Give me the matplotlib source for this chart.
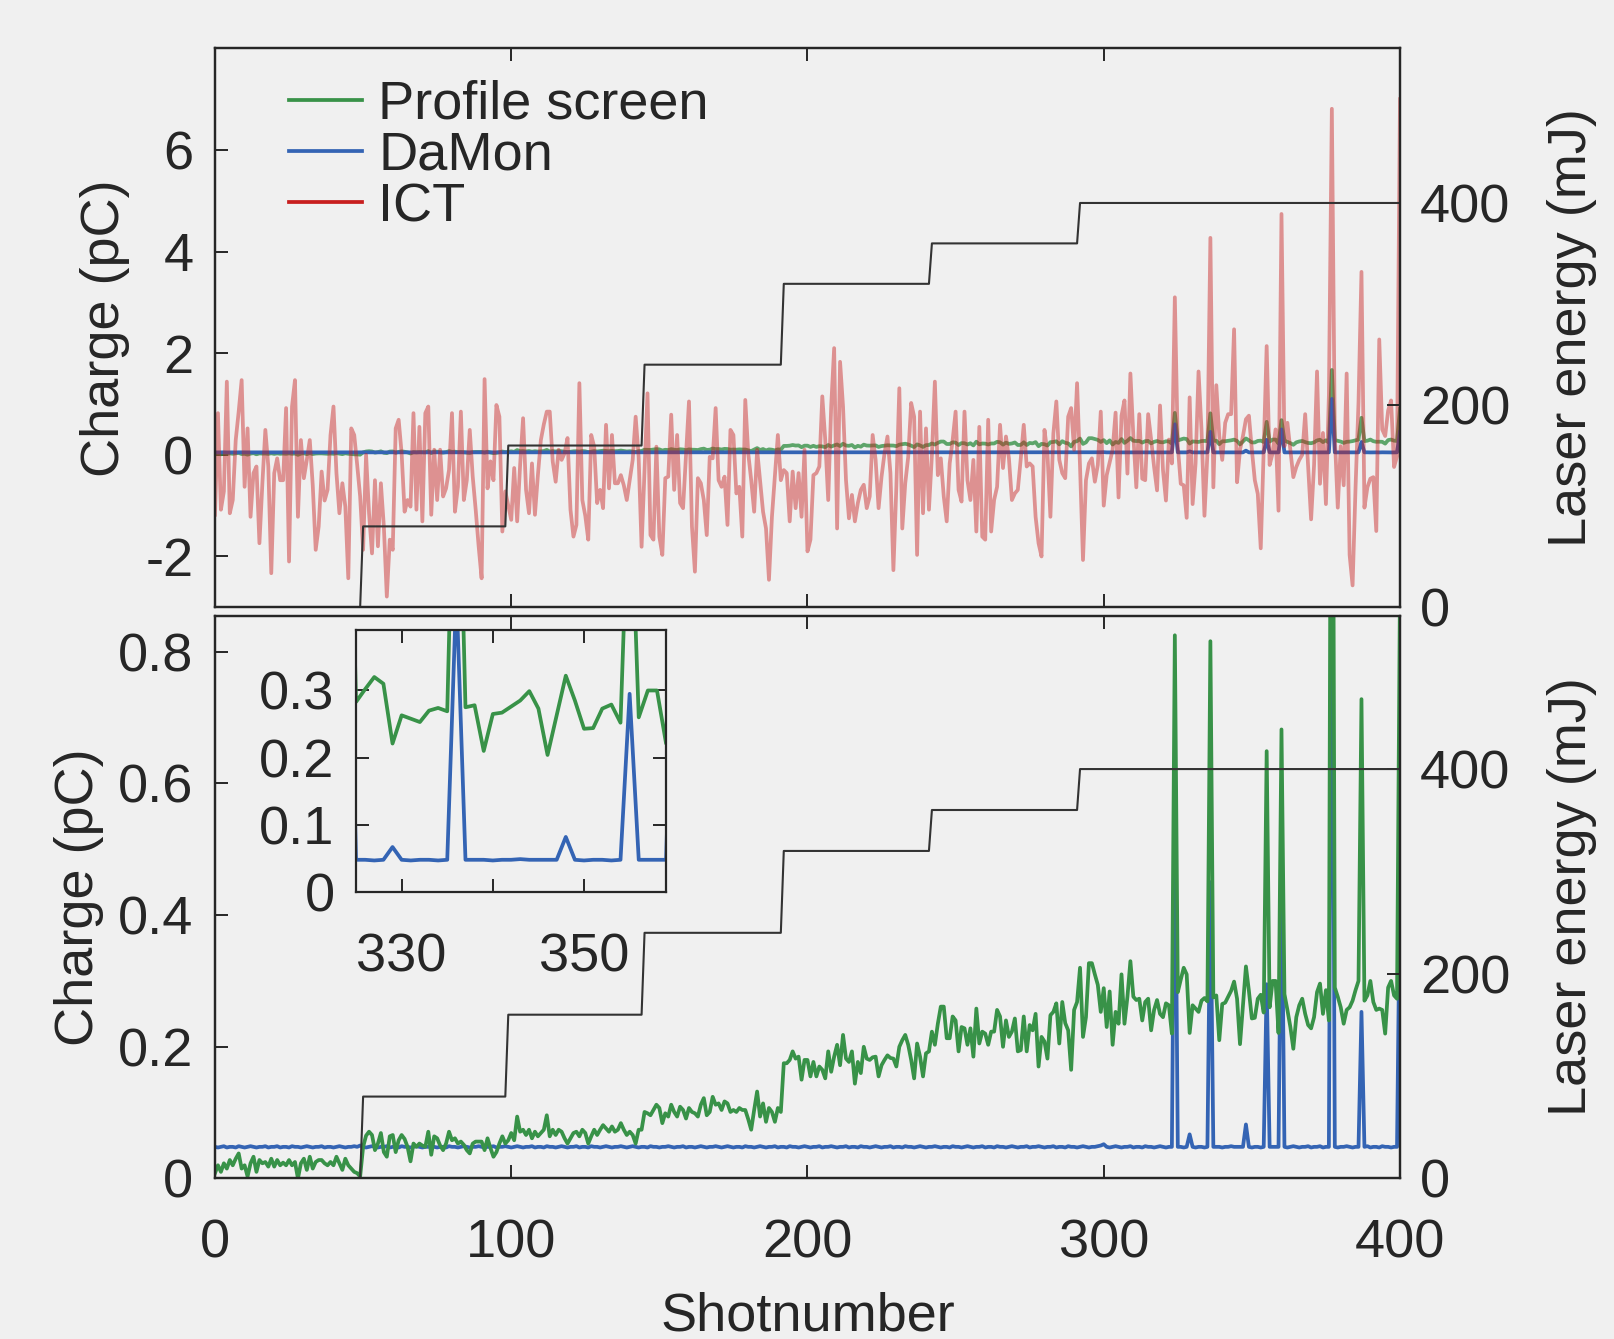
import numpy as np
import matplotlib
matplotlib.use("Agg")
import matplotlib.pyplot as plt
from matplotlib.lines import Line2D

plt.rcParams["font.family"] = ["Liberation Sans", "DejaVu Sans"]
plt.rcParams["axes.unicode_minus"] = False

# ---- data ----
SERIES_NAMES = ["Profile screen", "DaMon", "ICT"]

# ICT charge (pC), shots 0..400
ICT = [
    -1.18, 0.82, -1.08, -0.72, 1.44, -1.15, -0.89, 0.29, 0.85, 1.47,
    -0.63, 0.52, -1.22, -0.36, -0.23, -1.74, -0.56, 0.49, -0.23, -2.33,
    -0.36, -0.07, -0.5, -0.5, 0.92, -2.1, 0.95, 1.47, -1.22, 0.29,
    -0.46, -0.1, 0.29, -0.6, -1.87, -1.41, -0.33, -0.9, -0.69, 0.39,
    0.95, -0.36, -1.15, -0.56, -1.02, -2.43, 0.52, 0.39, -0.2, -0.82,
    -1.87, 0.0, -1.15, -1.94, -0.5, -1.8, -0.56, -1.41, -2.79, -1.67,
    -1.87, 0.52, 0.69, 0.03, -1.12, -0.89, -1.02, 0.82, -1.08, 0.55,
    -1.31, 0.82, 0.95, -1.18, 0.1, -0.89, 0.1, -0.82, -0.66, -0.3,
    0.82, -1.12, -0.63, 0.85, -0.89, -0.5, 0.49, -0.43, -1.08, -1.8,
    -2.43, 1.49, -0.66, -0.13, -0.5, 0.98, 0.75, -1.51, -0.72, -1.0,
    -1.28, -0.26, -1.31, -0.2, 0.72, -0.69, -1.15, -0.17, -1.18, -0.4,
    0.29, 0.6, 0.85, 0.85, -0.13, -0.53, 0.1, -0.1, 0.03, 0.33,
    -1.08, -1.61, -1.38, 1.41, -0.89, -1.2, -1.67, 0.39, 0.16, -0.95,
    -0.69, -1.05, 0.59, -0.66, 0.39, -0.56, -0.56, -0.4, -0.6, -0.89,
    -0.5, -0.1, 0.75, -0.04, -1.81, -0.3, 1.21, -1.58, -1.67, 0.16,
    -1.61, -1.97, -0.46, -0.43, 0.79, -0.69, 0.39, -0.95, -1.05, 0.0,
    1.05, -1.41, -2.3, -0.46, -0.56, -0.89, -1.58, -0.04, -0.07, 0.92,
    -0.5, -0.63, -0.43, -1.38, 0.49, 0.39, -0.76, -0.63, -1.61, 1.08,
    0.03, -0.5, -1.12, 0.1, -0.5, -1.12, -1.45, -2.46, -1.22, -0.4,
    0.39, -0.5, -0.3, -0.36, -1.31, -0.33, -1.05, -0.36, -1.22, 0.1,
    -1.9, -1.67, -0.4, -0.36, -0.23, 1.15, 0.29, -0.89, 0.95, 2.1,
    -1.45, 1.83, 0.95, -0.5, -1.25, -0.79, -1.31, -0.95, -0.69, -0.59,
    -1.05, -0.82, 0.39, -0.1, -1.05, -0.43, 0.03, 0.36, -0.36, -2.27,
    -0.63, 1.31, -1.45, -0.56, -0.04, 1.02, 0.75, -1.97, 0.85, -1.15,
    0.52, -1.08, 0.0, 1.44, -0.4, -0.07, -0.82, -1.31, -0.17, 0.29,
    0.85, -0.69, -0.92, 0.85, -0.5, -0.89, -0.1, -1.51, 0.55, -1.61,
    -1.67, 0.69, -1.51, -0.89, -0.63, 0.59, -0.26, 0.36, -0.07, -0.89,
    -0.76, -0.69, -0.07, 0.59, -0.23, -0.17, -0.23, -1.22, -1.74, -2.0,
    0.49, 0.03, -1.22, 0.42, 1.05, -0.1, -0.36, -0.46, 0.75, 0.92,
    0.1, 1.41, -0.23, -2.07, -0.5, -0.17, -0.07, -0.53, -0.2, 0.85,
    -1.0, -0.4, -0.15, 0.1, 0.83, -0.84, 0.77, 1.07, -0.37, 1.6,
    0.37, -0.64, 0.8, -0.47, -0.5, 0.8, 0.3, -0.24, -0.7, 0.97,
    -0.3, -0.9, 0.3, -0.17, 3.1, 0.17, -0.57, -0.6, -1.24, 1.13,
    -0.97, -0.17, 1.64, 0.5, -1.2, 0.03, 4.27, -0.64, 1.37, 0.37,
    -0.1, 0.63, 0.8, 0.8, 2.47, -0.54, 0.1, 0.37, 0.7, 0.77,
    0.1, -0.5, -0.77, -1.84, 0.1, 2.14, -0.2, 0.03, 0.5, -1.1,
    4.74, 0.17, 0.63, 0.1, -0.44, -0.24, -0.1, 0.0, 0.8, -0.24,
    -1.27, -0.2, 1.64, -0.57, 0.43, -0.97, 1.17, 6.81, 0.37, -1.04,
    0.17, -0.6, 1.6, -1.97, -2.57, -0.64, 1.03, 3.6, -1.04, -0.64,
    -0.47, -0.44, -1.5, 2.27, 0.5, 0.37, 0.87, 1.07, -0.24, -0.03,
    7.0,
]

# Profile screen charge (pC), shots 0..400
PROFILE = [
    0.008, 0.02, 0.01, 0.023, 0.015, 0.028, 0.02, 0.03, 0.038, 0.015,
    0.02, 0.003, 0.023, 0.033, 0.01, 0.028, 0.023, 0.025, 0.018, 0.03,
    0.018, 0.028, 0.02, 0.024, 0.02, 0.028, 0.02, 0.025, 0.0, 0.023,
    0.03, 0.013, 0.033, 0.015, 0.025, 0.028, 0.028, 0.023, 0.02, 0.025,
    0.02, 0.033, 0.023, 0.013, 0.03, 0.02, 0.015, 0.01, 0.008, 0.003,
    0.048, 0.065, 0.071, 0.066, 0.043, 0.053, 0.069, 0.04, 0.033, 0.064,
    0.066, 0.04, 0.058, 0.066, 0.06, 0.048, 0.026, 0.053, 0.048, 0.053,
    0.05, 0.048, 0.071, 0.036, 0.064, 0.061, 0.05, 0.043, 0.053, 0.071,
    0.058, 0.061, 0.053, 0.056, 0.051, 0.043, 0.038, 0.053, 0.056, 0.056,
    0.056, 0.043, 0.061, 0.046, 0.033, 0.04, 0.053, 0.064, 0.053, 0.058,
    0.069, 0.058, 0.094, 0.071, 0.074, 0.066, 0.074, 0.061, 0.071, 0.064,
    0.069, 0.074, 0.096, 0.064, 0.074, 0.066, 0.074, 0.071, 0.061, 0.053,
    0.061, 0.069, 0.071, 0.064, 0.074, 0.069, 0.053, 0.064, 0.074, 0.066,
    0.074, 0.081, 0.076, 0.071, 0.079, 0.071, 0.074, 0.084, 0.074, 0.066,
    0.071, 0.066, 0.053, 0.074, 0.074, 0.101, 0.099, 0.096, 0.104, 0.112,
    0.107, 0.084, 0.099, 0.094, 0.112, 0.101, 0.094, 0.109, 0.104, 0.091,
    0.107, 0.101, 0.099, 0.094, 0.112, 0.122, 0.096, 0.101, 0.124, 0.112,
    0.114, 0.104, 0.117, 0.114, 0.101, 0.104, 0.101, 0.107, 0.104, 0.104,
    0.09, 0.074, 0.104, 0.132, 0.094, 0.114, 0.086, 0.107, 0.101, 0.086,
    0.107, 0.101, 0.175, 0.175, 0.18, 0.193, 0.182, 0.185, 0.15, 0.18,
    0.18, 0.155, 0.177, 0.155, 0.17, 0.165, 0.152, 0.193, 0.162, 0.185,
    0.203, 0.172, 0.218, 0.182, 0.177, 0.193, 0.144, 0.177, 0.16, 0.2,
    0.182, 0.18, 0.184, 0.185, 0.155, 0.172, 0.18, 0.187, 0.183, 0.182,
    0.17, 0.2, 0.21, 0.218, 0.203, 0.18, 0.152, 0.205, 0.185, 0.155,
    0.19, 0.193, 0.223, 0.203, 0.235, 0.261, 0.261, 0.213, 0.213, 0.246,
    0.24, 0.193, 0.23, 0.228, 0.203, 0.228, 0.185, 0.258, 0.205, 0.223,
    0.22, 0.203, 0.223, 0.223, 0.256, 0.246, 0.2, 0.24, 0.215, 0.223,
    0.243, 0.193, 0.195, 0.246, 0.193, 0.233, 0.225, 0.25, 0.17, 0.215,
    0.208, 0.182, 0.248, 0.253, 0.266, 0.205, 0.268, 0.236, 0.225, 0.165,
    0.256, 0.268, 0.32, 0.215, 0.245, 0.327, 0.327, 0.31, 0.294, 0.253,
    0.289, 0.23, 0.284, 0.203, 0.253, 0.235, 0.31, 0.235, 0.276, 0.33,
    0.276, 0.271, 0.273, 0.24, 0.268, 0.273, 0.225, 0.256, 0.271, 0.25,
    0.245, 0.266, 0.263, 0.22, 0.825, 0.283, 0.302, 0.32, 0.31, 0.221,
    0.263, 0.258, 0.253, 0.27, 0.274, 0.269, 0.816, 0.275, 0.278, 0.21,
    0.265, 0.267, 0.276, 0.285, 0.299, 0.273, 0.204, 0.263, 0.322, 0.285,
    0.243, 0.244, 0.273, 0.279, 0.252, 0.649, 0.26, 0.3, 0.3, 0.221,
    0.682, 0.28, 0.256, 0.23, 0.197, 0.245, 0.263, 0.273, 0.25, 0.233,
    0.228, 0.245, 0.283, 0.296, 0.25, 0.286, 0.24, 1.67, 0.29, 0.276,
    0.26, 0.235, 0.256, 0.26, 0.27, 0.286, 0.3, 0.728, 0.27, 0.278,
    0.3, 0.268, 0.256, 0.258, 0.256, 0.22, 0.29, 0.3, 0.278, 0.273,
    0.9,
]

# DaMon charge (pC), shots 0..400
DAMON = [
    0.048, 0.047, 0.048, 0.049, 0.047, 0.048, 0.048, 0.047, 0.049, 0.048,
    0.047, 0.048, 0.049, 0.048, 0.047, 0.048, 0.048, 0.049, 0.047, 0.048,
    0.048, 0.049, 0.047, 0.048, 0.048, 0.047, 0.049, 0.048, 0.048, 0.047,
    0.048, 0.049, 0.048, 0.047, 0.048, 0.048, 0.049, 0.047, 0.048, 0.048,
    0.047, 0.048, 0.049, 0.048, 0.047, 0.048, 0.048, 0.049, 0.048, 0.05,
    0.048, 0.047, 0.048, 0.049, 0.048, 0.047, 0.048, 0.048, 0.049, 0.047,
    0.048, 0.048, 0.047, 0.049, 0.048, 0.048, 0.047, 0.048, 0.049, 0.048,
    0.047, 0.048, 0.048, 0.049, 0.048, 0.047, 0.048, 0.048, 0.047, 0.049,
    0.048, 0.048, 0.047, 0.048, 0.049, 0.048, 0.047, 0.048, 0.048, 0.049,
    0.048, 0.047, 0.048, 0.048, 0.049, 0.047, 0.048, 0.048, 0.049, 0.048,
    0.047, 0.048, 0.049, 0.048, 0.047, 0.048, 0.048, 0.049, 0.047, 0.048,
    0.048, 0.047, 0.049, 0.048, 0.048, 0.047, 0.048, 0.049, 0.048, 0.047,
    0.048, 0.048, 0.049, 0.047, 0.048, 0.048, 0.047, 0.049, 0.048, 0.048,
    0.047, 0.048, 0.049, 0.048, 0.047, 0.048, 0.048, 0.049, 0.048, 0.047,
    0.048, 0.049, 0.048, 0.047, 0.048, 0.048, 0.047, 0.049, 0.048, 0.048,
    0.047, 0.048, 0.048, 0.049, 0.048, 0.047, 0.048, 0.048, 0.049, 0.047,
    0.048, 0.048, 0.047, 0.048, 0.049, 0.048, 0.047, 0.048, 0.048, 0.049,
    0.048, 0.047, 0.048, 0.049, 0.048, 0.047, 0.048, 0.048, 0.047, 0.049,
    0.048, 0.048, 0.047, 0.048, 0.049, 0.048, 0.047, 0.048, 0.048, 0.049,
    0.047, 0.048, 0.048, 0.047, 0.049, 0.048, 0.048, 0.047, 0.048, 0.049,
    0.048, 0.047, 0.048, 0.048, 0.049, 0.047, 0.048, 0.048, 0.049, 0.048,
    0.047, 0.048, 0.048, 0.049, 0.047, 0.048, 0.048, 0.047, 0.049, 0.048,
    0.048, 0.047, 0.048, 0.049, 0.048, 0.047, 0.048, 0.048, 0.049, 0.047,
    0.048, 0.048, 0.047, 0.049, 0.048, 0.048, 0.047, 0.048, 0.049, 0.048,
    0.047, 0.048, 0.048, 0.049, 0.048, 0.047, 0.048, 0.048, 0.047, 0.049,
    0.048, 0.048, 0.047, 0.048, 0.049, 0.048, 0.047, 0.048, 0.048, 0.049,
    0.047, 0.048, 0.048, 0.047, 0.049, 0.048, 0.048, 0.047, 0.048, 0.049,
    0.048, 0.047, 0.048, 0.048, 0.049, 0.047, 0.048, 0.048, 0.049, 0.048,
    0.047, 0.048, 0.048, 0.049, 0.047, 0.048, 0.048, 0.047, 0.049, 0.048,
    0.048, 0.047, 0.048, 0.049, 0.048, 0.047, 0.048, 0.048, 0.049, 0.05,
    0.052, 0.048, 0.047, 0.048, 0.049, 0.048, 0.047, 0.048, 0.048, 0.049,
    0.047, 0.048, 0.048, 0.047, 0.049, 0.048, 0.048, 0.047, 0.048, 0.049,
    0.048, 0.047, 0.048, 0.048, 0.6, 0.048, 0.048, 0.047, 0.048, 0.067,
    0.048, 0.047, 0.048, 0.048, 0.047, 0.048, 0.45, 0.048, 0.048, 0.048,
    0.047, 0.048, 0.048, 0.049, 0.048, 0.048, 0.048, 0.048, 0.082, 0.048,
    0.047, 0.048, 0.048, 0.047, 0.048, 0.295, 0.048, 0.048, 0.048, 0.048,
    0.5, 0.048, 0.047, 0.048, 0.049, 0.048, 0.047, 0.048, 0.048, 0.049,
    0.047, 0.048, 0.048, 0.049, 0.047, 0.048, 0.048, 1.1, 0.048, 0.047,
    0.048, 0.048, 0.049, 0.048, 0.047, 0.048, 0.048, 0.253, 0.048, 0.049,
    0.047, 0.048, 0.048, 0.047, 0.049, 0.048, 0.048, 0.047, 0.048, 0.048,
    0.45,
]

# Laser energy (mJ): level and first shot of each step
LASER_LEVELS = [0, 80, 160, 240, 320, 360, 400]
LASER_STARTS = [0, 50, 99, 145, 192, 242, 292]

TOP_YTICKS = [-2, 0, 2, 4, 6]
BOT_YTICKS = [0, 0.2, 0.4, 0.6, 0.8]
BOT_YTICKLABELS = ["0", "0.2", "0.4", "0.6", "0.8"]
X_TICKS = [0, 100, 200, 300, 400]
E_TICKS = [0, 200, 400]
INSET_XTICKS = [330, 340, 350]
INSET_XTICKLABELS = ["330", "", "350"]
INSET_YTICKS = [0, 0.1, 0.2, 0.3]
INSET_YTICKLABELS = ["0", "0.1", "0.2", "0.3"]

# ---- style ----
FS = 39
BG = "#f0f0f0"
INK = "#262626"
C_GREEN = "#389248"
C_BLUE = "#3464b4"
C_RED = "#c81e1e"
C_STEP = "#333333"
LW = 2.7

shots = np.arange(len(ICT))
laser = np.repeat(LASER_LEVELS, np.diff(LASER_STARTS + [len(ICT)]))


def style(ax, xpad=29, ypad=15.5):
    for s in ax.spines.values():
        s.set_color(INK)
        s.set_linewidth(1.6)
    ax.tick_params(direction="in", length=9.5, width=1.4, colors=INK,
                   labelsize=FS, labelcolor=INK)
    ax.tick_params(axis="x", pad=xpad)
    ax.tick_params(axis="y", pad=ypad)


fig = plt.figure(figsize=(16.14, 13.39), dpi=100, facecolor=BG)

# top panel
ax1 = fig.add_axes([0.1332, 0.5465, 0.7342, 0.4174], facecolor=BG)
ax1.plot(shots, PROFILE, color=C_GREEN, lw=LW, alpha=0.8)
ax1.plot(shots, DAMON, color=C_BLUE, lw=LW)
ax1.plot(shots, ICT, color=C_RED, lw=LW, alpha=0.45)
ax1.set_xlim(0, 400)
ax1.set_ylim(-3, 8)
ax1.set_xticks(X_TICKS)
ax1.set_yticks(TOP_YTICKS)
style(ax1)
ax1.tick_params(axis="x", top=True, labelbottom=False)
ax1.set_ylabel("Charge (pC)", fontsize=FS, color=INK)
ax1.yaxis.set_label_coords(-0.072, 0.5)

handles = [Line2D([], [], color=c, lw=LW) for c in (C_GREEN, C_BLUE, C_RED)]
ax1.legend(handles, SERIES_NAMES, loc="upper left", bbox_to_anchor=(0.0624, 0.9435),
           frameon=False, fontsize=FS, borderpad=0, borderaxespad=0,
           handlelength=1.35, handletextpad=0.3, labelspacing=0.02,
           labelcolor=INK)

tw1 = ax1.twinx()
tw1.plot(shots, laser, color=C_STEP, lw=1.5)
tw1.set_ylim(0, 553)
tw1.set_yticks(E_TICKS)
style(tw1, ypad=14.4)
tw1.set_ylabel("Laser energy (mJ)", fontsize=FS, color=INK)
tw1.yaxis.set_label_coords(1.124, 0.5)

# bottom panel
ax2 = fig.add_axes([0.1332, 0.1199, 0.7342, 0.4204], facecolor=BG)
ax2.plot(shots, DAMON, color=C_BLUE, lw=LW)
ax2.plot(shots, PROFILE, color=C_GREEN, lw=LW)
ax2.set_xlim(0, 400)
ax2.set_ylim(0, 0.855)
ax2.set_xticks(X_TICKS)
ax2.set_yticks(BOT_YTICKS)
ax2.set_yticklabels(BOT_YTICKLABELS)
style(ax2)
ax2.tick_params(axis="x", top=True)
ax2.set_ylabel("Charge (pC)", fontsize=FS, color=INK)
ax2.yaxis.set_label_coords(-0.094, 0.5)
ax2.set_xlabel("Shotnumber", fontsize=FS, color=INK)
ax2.xaxis.set_label_coords(0.5, -0.2)

tw2 = ax2.twinx()
tw2.plot(shots, laser, color=C_STEP, lw=1.5)
tw2.set_ylim(0, 550)
tw2.set_yticks(E_TICKS)
style(tw2, ypad=14.4)
tw2.set_ylabel("Laser energy (mJ)", fontsize=FS, color=INK)
tw2.yaxis.set_label_coords(1.124, 0.5)

# inset
ins = fig.add_axes([0.2206, 0.3338, 0.1921, 0.1957], facecolor=BG)
ins.plot(shots, DAMON, color=C_BLUE, lw=LW)
ins.plot(shots, PROFILE, color=C_GREEN, lw=LW)
ins.set_xlim(325, 359)
ins.set_ylim(0, 0.39)
ins.set_xticks(INSET_XTICKS)
ins.set_xticklabels(INSET_XTICKLABELS)
ins.set_yticks(INSET_YTICKS)
ins.set_yticklabels(INSET_YTICKLABELS)
style(ins)
ins.tick_params(top=True, right=True)

fig.savefig("out.png", dpi=100, facecolor=BG)
